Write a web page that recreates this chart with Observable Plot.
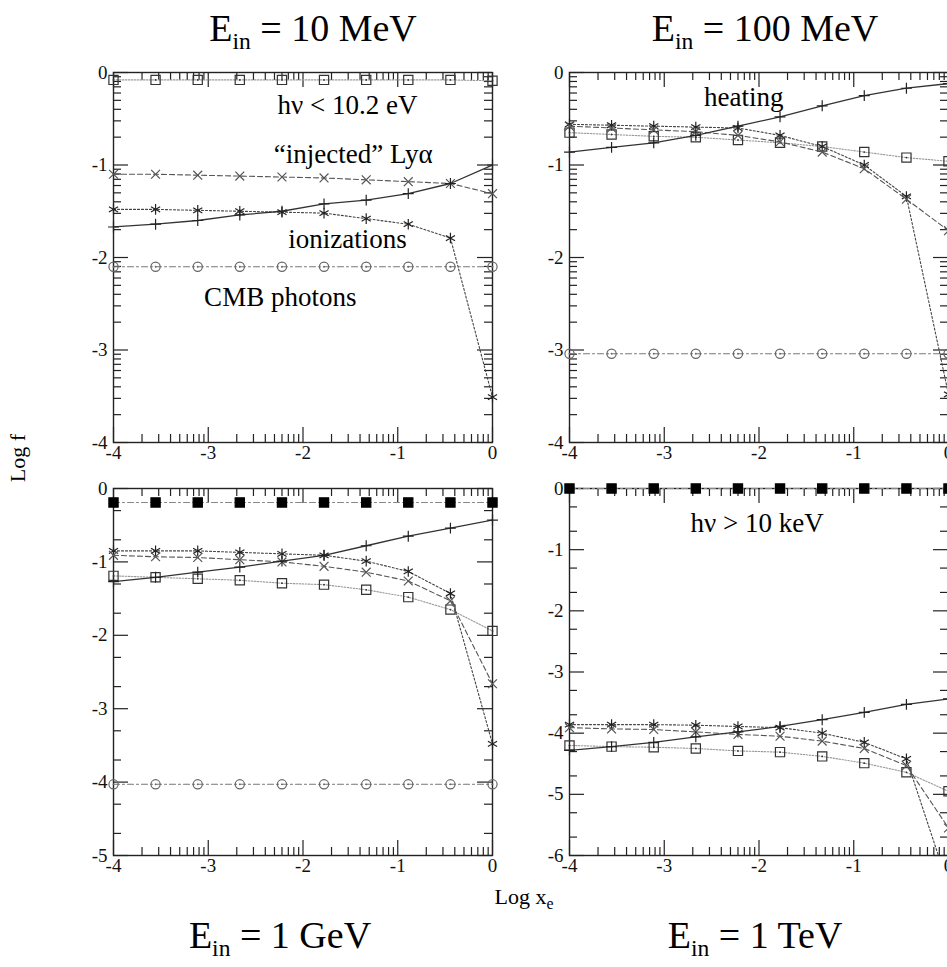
<!DOCTYPE html>
<html>
<head>
<meta charset="utf-8">
<script src="https://cdn.jsdelivr.net/npm/d3@7"></script>
<script src="https://cdn.jsdelivr.net/npm/@observablehq/plot@0.6"></script>
<style>
  body { margin: 0; background: #fff; }
  #root { position: relative; width: 947px; height: 967px; overflow: hidden; background: #fff;
          font-family: "Liberation Serif", "Times New Roman", serif; color: #000; }
  #root svg { position: absolute; }
  .title { position: absolute; font-size: 38px; line-height: 38px; white-space: nowrap; transform: translateX(-50%); }
  .sub { font-size: 0.62em; position: relative; top: 0.32em; }
  .axlabel { position: absolute; font-size: 22px; line-height: 22px; white-space: nowrap; }
  .axlabel .sub { font-size: 0.72em; top: 0.3em; }
</style>
</head>
<body>
<div id="root">
  <div class="title" style="left:313px; top:9px;">E<span class="sub">in</span> = 10 MeV</div>
  <div class="title" style="left:765px; top:9px;">E<span class="sub">in</span> = 100 MeV</div>
  <div class="title" style="left:280px; top:916px;">E<span class="sub">in</span> = 1 GeV</div>
  <div class="title" style="left:755px; top:916px;">E<span class="sub">in</span> = 1 TeV</div>
  <div class="axlabel" style="left:524px; top:886px; transform:translateX(-50%);">Log x<span class="sub">e</span></div>
  <div class="axlabel" style="left:18px; top:458px; transform:translate(-50%,-50%) rotate(-90deg);">Log f</div>
</div>
<script>
// ---- data: log10 of energy fraction f versus log10 x_e ----
const logXe = [-4, -3.556, -3.111, -2.667, -2.222, -1.778, -1.333, -0.889, -0.444, 0];

// E_in = 10 MeV
const heating10MeV = [-1.67, -1.64, -1.60, -1.54, -1.50, -1.42, -1.38, -1.31, -1.20, -1.00];
const lya10MeV     = [-1.10, -1.10, -1.11, -1.12, -1.13, -1.14, -1.16, -1.18, -1.20, -1.31];
const ion10MeV     = [-1.48, -1.48, -1.49, -1.50, -1.51, -1.52, -1.58, -1.64, -1.79, -3.51];
const cmb10MeV     = [-2.10, -2.10, -2.10, -2.10, -2.10, -2.10, -2.10, -2.10, -2.10, -2.10];
const lowE10MeV    = [-0.08, -0.08, -0.08, -0.08, -0.08, -0.08, -0.08, -0.08, -0.08, -0.09];

// E_in = 100 MeV
const heating100MeV = [-0.86, -0.81, -0.76, -0.68, -0.58, -0.48, -0.36, -0.25, -0.17, -0.12];
const lya100MeV     = [-0.58, -0.60, -0.62, -0.64, -0.68, -0.75, -0.86, -1.04, -1.37, -1.71];
const ion100MeV     = [-0.56, -0.57, -0.58, -0.59, -0.60, -0.68, -0.80, -1.00, -1.34, -3.48];
const cmb100MeV     = [-3.04, -3.04, -3.04, -3.04, -3.04, -3.04, -3.04, -3.04, -3.04, -3.04];
const lowE100MeV    = [-0.65, -0.67, -0.69, -0.70, -0.73, -0.76, -0.80, -0.86, -0.92, -0.96];

// E_in = 1 GeV
const heating1GeV = [-1.27, -1.21, -1.14, -1.07, -0.99, -0.91, -0.78, -0.65, -0.54, -0.43];
const lya1GeV     = [-0.91, -0.93, -0.94, -0.97, -1.00, -1.06, -1.14, -1.26, -1.53, -2.66];
const ion1GeV     = [-0.85, -0.85, -0.85, -0.87, -0.89, -0.91, -0.99, -1.13, -1.43, -3.48];
const cmb1GeV     = [-4.03, -4.03, -4.03, -4.03, -4.03, -4.03, -4.03, -4.03, -4.03, -4.03];
const lowE1GeV    = [-1.19, -1.21, -1.23, -1.25, -1.29, -1.31, -1.38, -1.48, -1.65, -1.94];
const highE1GeV   = [-0.19, -0.19, -0.19, -0.19, -0.19, -0.19, -0.19, -0.19, -0.19, -0.19];

// E_in = 1 TeV
const heating1TeV = [-4.28, -4.22, -4.15, -4.06, -3.98, -3.89, -3.78, -3.66, -3.53, -3.44];
const lya1TeV     = [-3.91, -3.93, -3.94, -3.98, -4.02, -4.05, -4.13, -4.25, -4.53, -5.55];
const ion1TeV     = [-3.86, -3.86, -3.86, -3.87, -3.89, -3.91, -4.00, -4.15, -4.42, -6.50];
const lowE1TeV    = [-4.20, -4.22, -4.23, -4.25, -4.29, -4.31, -4.38, -4.49, -4.64, -4.95];
const highE1TeV   = [0, 0, 0, 0, 0, 0, 0, 0, 0, 0];

// tick labels
const xTicks = [-4, -3, -2, -1, 0];
const yTicks10MeV = [-4, -3, -2, -1, 0];
const yTicks100MeV = [-4, -3, -2, -1, 0];
const yTicks1GeV = [-5, -4, -3, -2, -1, 0];
const yTicks1TeV = [-6, -5, -4, -3, -2, -1, 0];

// annotations (data coordinates)
const notes10MeV = [
  {x: -1.53, y: -0.36, t: "hν < 10.2 eV"},
  {x: -1.47, y: -0.88, t: "“injected” Lyα"},
  {x: -1.53, y: -1.80, t: "ionizations"},
  {x: -2.24, y: -2.43, t: "CMB photons"}
];
const notes100MeV = [{x: -2.16, y: -0.27, t: "heating"}];
const notes1GeV = [];
const notes1TeV = [{x: -2.02, y: -0.57, t: "hν > 10 keV"}];

// ---- styles ----
const FONT = "'Liberation Serif', 'Times New Roman', serif";
const styles = {
  heating: {symbol: "plus", r: 3.6, mark: "#222", line: "#333", dash: null, sw: 1.3},
  lya:     {symbol: "times", r: 4.1, mark: "#555", line: "#555", dash: "5,3", sw: 1.1},
  ion:     {symbol: "asterisk", r: 5.0, mark: "#222", line: "#444", dash: "2,2", sw: 1.1},
  cmb:     {symbol: "circle", r: 4.6, mark: "#666", line: "#777", dash: "6,3,2,3", sw: 1.1, dot: true},
  lowE:    {symbol: "square", r: 5.2, mark: "#333", line: "#999", dash: "1.5,1.5", sw: 1.1, dot: true},
  highE:   {symbol: "square", r: 5.2, mark: "#000", fill: "#000", line: "#888", dash: "6,3,2,3", sw: 1.1}
};

const panels = [
  {left: 113, top: 72, h: 370, ymin: -4, yTicks: yTicks10MeV, minorK: [2,3,4,5,6,7,8,9], notes: notes10MeV,
   series: {lowE: lowE10MeV, cmb: cmb10MeV, ion: ion10MeV, lya: lya10MeV, heating: heating10MeV}},
  {left: 569, top: 72, h: 370, ymin: -4, yTicks: yTicks100MeV, minorK: [2,3,4,5,6,7,8,9], notes: notes100MeV,
   series: {lowE: lowE100MeV, cmb: cmb100MeV, ion: ion100MeV, lya: lya100MeV, heating: heating100MeV}},
  {left: 113, top: 488, h: 367, ymin: -5, yTicks: yTicks1GeV, minorK: [2,5], notes: notes1GeV,
   series: {highE: highE1GeV, lowE: lowE1GeV, cmb: cmb1GeV, ion: ion1GeV, lya: lya1GeV, heating: heating1GeV}},
  {left: 569, top: 488, h: 367, ymin: -6, yTicks: yTicks1TeV, minorK: [2,5], notes: notes1TeV,
   series: {highE: highE1TeV, lowE: lowE1TeV, ion: ion1TeV, lya: lya1TeV, heating: heating1TeV}}
];

const root = document.getElementById("root");
const W = 379, mL = 60, mR = 30, mT = 25, mB = 40;
const minorX = [];
for (const d of [-4, -3, -2, -1]) for (const k of [2,3,4,5,6,7,8,9]) minorX.push(d + Math.log10(k));

for (const p of panels) {
  const H = p.h;
  const minorY = [];
  for (let d = p.ymin; d < 0; d++) for (const k of p.minorK) minorY.push(d + Math.log10(k));
  const tickStyle = {stroke: "#222", strokeWidth: 1.2};
  const marks = [
    Plot.tickX(minorX, {x: d => d, insetTop: H - 8, ...tickStyle}),
    Plot.tickX(minorX, {x: d => d, insetBottom: H - 8, ...tickStyle}),
    Plot.tickX(xTicks, {x: d => d, insetTop: H - 15, ...tickStyle}),
    Plot.tickX(xTicks, {x: d => d, insetBottom: H - 15, ...tickStyle}),
    Plot.tickY(minorY, {y: d => d, insetRight: W - 8, ...tickStyle}),
    Plot.tickY(minorY, {y: d => d, insetLeft: W - 8, ...tickStyle}),
    Plot.tickY(p.yTicks, {y: d => d, insetRight: W - 15, ...tickStyle}),
    Plot.tickY(p.yTicks, {y: d => d, insetLeft: W - 15, ...tickStyle}),
    Plot.frame({stroke: "#222", strokeWidth: 1.4}),
    Plot.text(xTicks, {x: d => d, text: d => String(d), frameAnchor: "bottom", lineAnchor: "top", dy: 3,
      fontSize: 19, fontFamily: FONT, fill: "#111"}),
    Plot.text(p.yTicks, {y: d => d, text: d => String(d), frameAnchor: "left", textAnchor: "end", dx: -6,
      fontSize: 19, fontFamily: FONT, fill: "#111"}),
    Plot.text(p.notes, {x: "x", y: "y", text: "t", fontSize: 27, fontFamily: FONT, fill: "#000"})
  ];
  for (const [key, vals] of Object.entries(p.series)) {
    const s = styles[key];
    const rows = vals.map((v, i) => ({x: logXe[i], y: v}));
    const inside = rows.filter(d => d.y >= p.ymin - 0.02);
    marks.push(Plot.line(rows, {x: "x", y: "y", stroke: s.line, strokeWidth: s.sw,
      strokeDasharray: s.dash, clip: true}));
    marks.push(Plot.dot(inside, {x: "x", y: "y", symbol: s.symbol, r: s.r, stroke: s.mark,
      fill: s.fill || "none", strokeWidth: 1.2}));
    if (s.dot) marks.push(Plot.dot(inside, {x: "x", y: "y", r: 0.9, fill: s.mark, stroke: null}));
  }
  const chart = Plot.plot({
    width: W + mL + mR, height: H + mT + mB,
    marginLeft: mL, marginRight: mR, marginTop: mT, marginBottom: mB,
    x: {domain: [-4, 0], axis: null},
    y: {domain: [p.ymin, 0], axis: null},
    style: {background: "transparent", overflow: "visible"},
    marks
  });
  chart.style.left = (p.left - mL) + "px";
  chart.style.top = (p.top - mT) + "px";
  root.appendChild(chart);
}
</script>
</body>
</html>
